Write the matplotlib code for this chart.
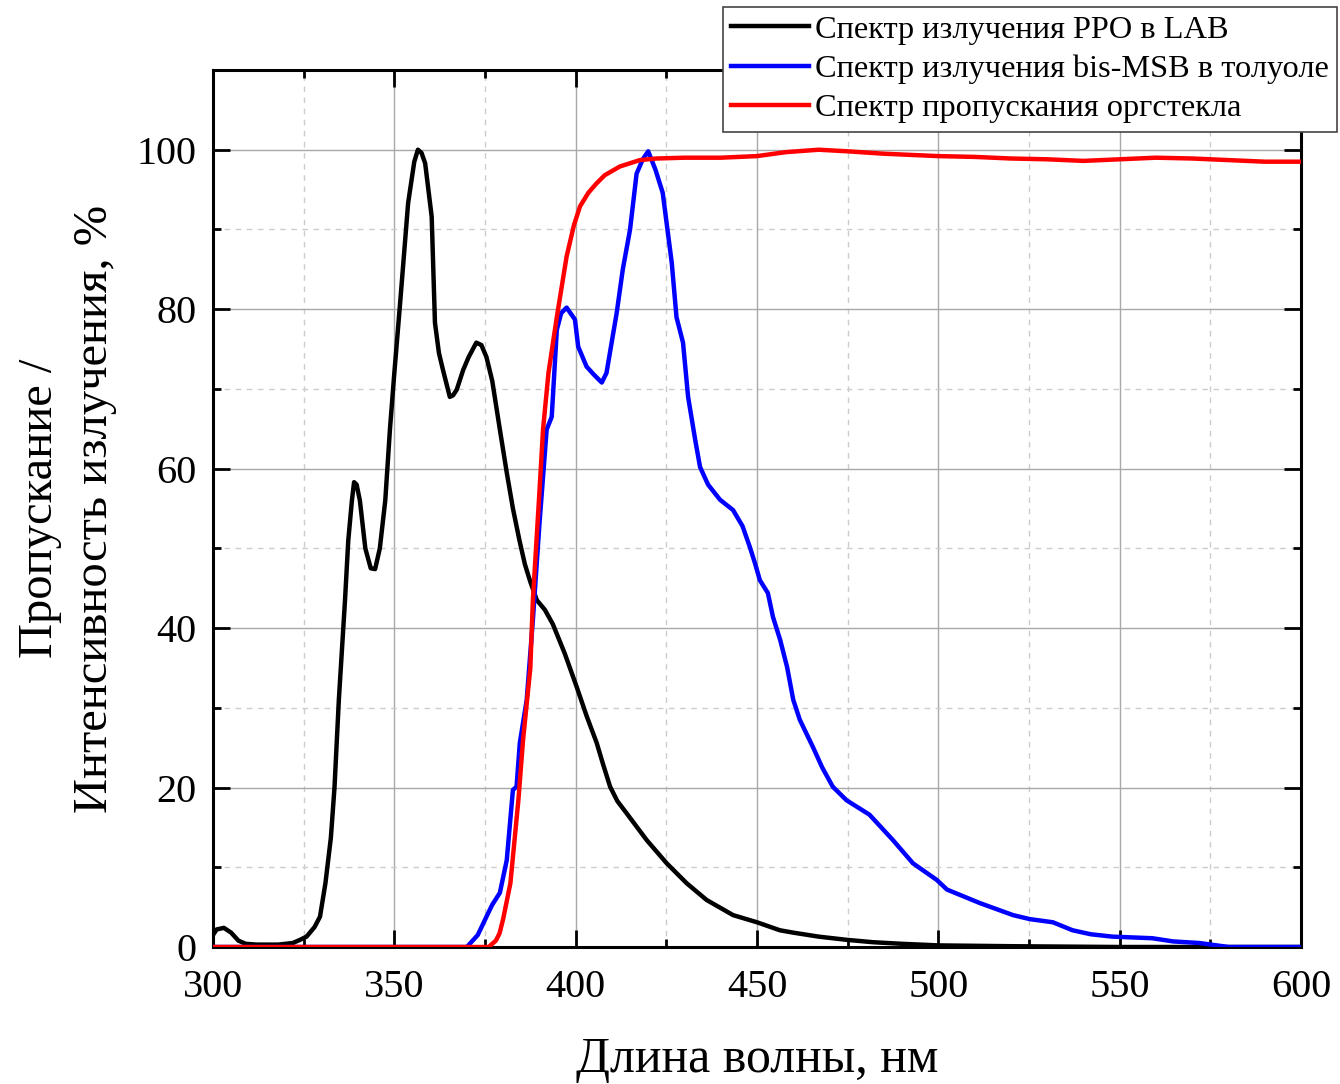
import matplotlib
matplotlib.use("Agg")
import matplotlib.pyplot as plt
from matplotlib.ticker import MultipleLocator

plt.rcParams['font.family'] = ['Liberation Serif', 'DejaVu Serif']

# PPO emission in LAB
ppo_nm = [300, 301, 303, 305, 307, 309, 312, 318, 322, 324, 325.8, 328, 329.5, 331,
          332.5, 333.5, 334.7, 336.4, 337.3, 338.3, 338.9, 339.6, 340.5, 342, 343.5,
          344.7, 346, 347.5, 348.8, 350, 351.6, 353.8, 355.5, 356.5, 357.5, 358.5,
          360.3, 361.2, 362.3, 363.4, 365.3, 366.2, 367.2, 369, 370.5, 372.6, 374,
          375.4, 377, 379.1, 381, 382.7, 384.5, 386, 387.5, 389.3, 391.5, 393.7,
          397, 400.3, 403, 405.8, 407.5, 409.5, 411.5, 414, 419.6, 425.1, 430.6,
          436.1, 443.4, 450, 456.3, 460, 467, 474.7, 482, 490, 500, 520, 550, 600]
ppo_val = [1.5, 2.2, 2.4, 1.8, 0.8, 0.4, 0.3, 0.3, 0.5, 0.9, 1.3, 2.5, 3.8, 8,
           13.7, 20, 31, 43.5, 51, 56, 58.3, 58, 56, 50, 47.5,
           47.4, 50, 56, 65, 72, 80.8, 93.3, 98.5, 100, 99.6, 98.3,
           91.6, 78.3, 74.5, 72.4, 69, 69.2, 69.9, 72.4, 74, 75.8, 75.5,
           74, 71, 64.9, 59.5, 55, 51, 48, 45.8, 43.5, 42.3, 40.5,
           36.8, 32.6, 29, 25.6, 23, 20.1, 18.3, 16.8, 13.4, 10.5, 8,
           5.9, 4, 3.1, 2.1, 1.8, 1.3, 0.9, 0.6, 0.4, 0.2, 0.1, 0.0, 0.0]

# bis-MSB emission in toluene
msb_nm = [300, 370, 373, 375.4, 377, 379.1, 381, 382.7, 383.7, 384.6, 386.5, 388.2,
          390, 392, 393.4, 394.8, 396, 397.5, 399.8, 400.7, 403, 405, 407.2, 408.5,
          411.3, 413, 415, 416.8, 418.5, 420, 422, 424, 426.5, 427.8, 429.6, 431,
          433, 434.3, 436.5, 439.8, 443.4, 446, 448, 449.4, 450.8, 453, 454.4,
          456.4, 458.3, 460, 461.8, 465.4, 468, 470.9, 474.7, 481, 487.5, 493,
          499.6, 502.4, 511.5, 520.6, 525.2, 531.6, 537, 542, 548, 559, 564.7,
          572, 580, 600]
msb_val = [0, 0, 1.5, 3.8, 5.3, 6.8, 10.9, 19.7, 20.1, 25.6, 31, 41,
           53, 64.9, 66.5, 77.4, 79.5, 80.2, 78.7, 75.3, 72.8, 71.8, 70.8, 72,
           79.5, 85, 90, 97, 98.8, 99.8, 97.5, 94.6, 85.8, 79, 75.8, 69,
           63.5, 60.2, 58, 56.1, 54.8, 52.8, 50.2, 48.2, 46, 44.4, 41.4,
           38.5, 35.1, 31, 28.5, 25.1, 22.5, 20.1, 18.4, 16.6, 13.4, 10.5,
           8.4, 7.2, 5.5, 4, 3.5, 3.1, 2.1, 1.6, 1.3, 1.1, 0.7,
           0.5, 0, 0]

# PMMA (plexiglass) transmission
pmma_nm = [300, 376, 378, 379, 380, 382, 384.2, 385.5, 387.5, 388.2, 390, 391,
           392.5, 394.8, 397.5, 399.5, 401.2, 403.5, 405.8, 408, 412.2, 417.7,
           422.3, 430, 440, 450, 458, 467, 475, 485, 500, 510, 520, 530, 540,
           550, 560, 570, 580, 590, 600]
pmma_val = [0, 0, 0.8, 1.7, 3.5, 8, 18.4, 26, 35, 43.5, 57, 64.9,
            72, 79, 86.6, 90.5, 92.9, 94.6, 95.8, 96.8, 97.9, 98.7,
            98.9, 99, 99, 99.2, 99.7, 100, 99.8, 99.5, 99.2, 99.1, 98.9, 98.8, 98.6,
            98.8, 99, 98.9, 98.7, 98.5, 98.5]

labels = ["Спектр излучения PPO в LAB",
          "Спектр излучения bis-MSB в толуоле",
          "Спектр пропускания оргстекла"]

fig = plt.figure(figsize=(13.4, 10.84), dpi=100)
ax = fig.add_axes([213 / 1340, 137 / 1084, 1088 / 1340, 877 / 1084])

ax.plot(ppo_nm, ppo_val, color='black', lw=3.2, label=labels[0], zorder=3,
        solid_joinstyle='round')
ax.plot(msb_nm, msb_val, color='#0000ff', lw=3.2, label=labels[1], zorder=4,
        solid_joinstyle='round')
ax.plot(pmma_nm, pmma_val, color='#ff0000', lw=3.2, label=labels[2], zorder=5,
        solid_joinstyle='round')

ax.set_xlim(300, 600)
ax.set_ylim(0, 110)
ax.xaxis.set_major_locator(MultipleLocator(50))
ax.xaxis.set_minor_locator(MultipleLocator(25))
ax.yaxis.set_major_locator(MultipleLocator(20))
ax.yaxis.set_minor_locator(MultipleLocator(10))
ax.set_yticks([0, 20, 40, 60, 80, 100])

ax.grid(which='major', color='#a8a8a8', lw=1.0, ls='-', zorder=0)
ax.grid(which='minor', color='#cccccc', lw=1.0, ls=(0, (4, 4)), zorder=0)
ax.set_axisbelow(True)

ax.tick_params(which='both', direction='in', top=True, right=True, width=2.0,
               labelsize=29)
ax.tick_params(axis='x', which='major', pad=16)
ax.tick_params(axis='y', which='major', pad=12)
ax.tick_params(which='major', length=12)
ax.tick_params(which='minor', length=6)
for s in ax.spines.values():
    s.set_linewidth(2.2)

ax.set_xlabel("Длина волны, нм", fontsize=36, labelpad=22)
ax.set_ylabel("Пропускание /\nИнтенсивность излучения, %", fontsize=35,
              labelpad=14, linespacing=1.32)

leg = fig.legend(loc='upper left', bbox_to_anchor=(723 / 1340, 1 - 7 / 1084),
                 fontsize=23.3, frameon=True, fancybox=False, framealpha=1,
                 edgecolor='#444444', borderpad=0.25, labelspacing=0.3,
                 handlelength=2.4, handletextpad=0.2, borderaxespad=0)
leg.get_frame().set_linewidth(1.2)

fig.savefig("out.png", dpi=100)
